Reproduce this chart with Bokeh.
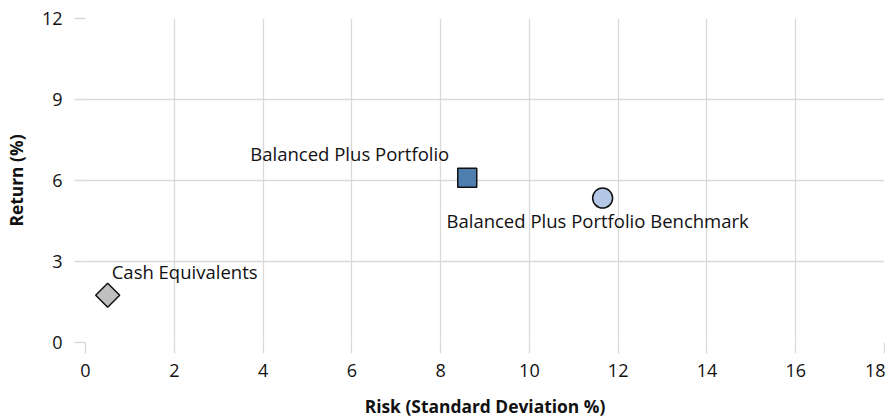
import numpy as np
from bokeh.plotting import figure
from bokeh.models import FixedTicker
from bokeh.core.properties import value
from bokeh.embed import file_html
from bokeh.resources import INLINE

# ---- data ----
names = ["Cash Equivalents", "Balanced Plus Portfolio", "Balanced Plus Portfolio Benchmark"]
risk = [0.5, 8.6, 11.65]
ret = [1.75, 6.1, 5.35]
x_ticks = [0, 2, 4, 6, 8, 10, 12, 14, 16, 18]
y_ticks = [0, 3, 6, 9, 12]

FONT = "Open Sans"
GRID = "#d9d9d9"
TEXT = "#111111"

p = figure(width=884, height=417, x_range=(0, 18), y_range=(0, 12),
           output_backend="svg", toolbar_location=None,
           frame_width=799, frame_height=324,
           min_border_left=84, min_border_right=1, min_border_top=18, min_border_bottom=75)
p.outline_line_color = None
p.background_fill_color = "white"
p.border_fill_color = "white"

for ax, ticks in ((p.xaxis[0], x_ticks), (p.yaxis[0], y_ticks)):
    ax.ticker = FixedTicker(ticks=ticks)
    ax.axis_line_color = None
    ax.major_tick_line_color = GRID
    ax.major_tick_line_width = 1.3
    ax.minor_tick_line_color = None
    ax.major_label_text_font = FONT
    ax.major_label_text_font_size = "18px"
    ax.major_label_text_color = TEXT
    ax.axis_label_text_font = FONT
    ax.axis_label_text_font_size = "17.4px"
    ax.axis_label_text_font_style = "bold"
    ax.axis_label_text_color = TEXT

p.xaxis.major_tick_in = 0
p.xaxis.major_tick_out = 11
p.yaxis.major_tick_in = 0
p.yaxis.major_tick_out = 11
p.xaxis.major_label_standoff = 10
p.yaxis.major_label_standoff = 12
p.xaxis.axis_label = "Risk (Standard Deviation %)"
p.yaxis.axis_label = "Return (%)"
p.xaxis.axis_label_standoff = 14
p.yaxis.axis_label_standoff = 11

p.xgrid.ticker = FixedTicker(ticks=x_ticks)
p.ygrid.ticker = FixedTicker(ticks=y_ticks)
p.xgrid.grid_line_color = GRID
p.ygrid.grid_line_color = GRID
p.xgrid.grid_line_width = 1.3
p.ygrid.grid_line_width = 1.3

# markers
p.scatter(x=[risk[0]], y=[ret[0]], marker="square", size=17, angle=np.pi / 4,
          fill_color="#bfbfbf", line_color="#111111", line_width=1.5)
p.scatter(x=[risk[1]], y=[ret[1]], marker="square", size=19,
          fill_color="#4f7fae", line_color="#111111", line_width=1.5)
p.scatter(x=[risk[2]], y=[ret[2]], marker="circle", size=20,
          fill_color="#b4c7e7", line_color="#111111", line_width=1.5)

# labels
label_style = [
    dict(x_offset=4, y_offset=-24, text_align="left"),
    dict(x_offset=-18, y_offset=-24, text_align="right"),
    dict(x_offset=-5, y_offset=22, text_align="center"),
]
for i, st in enumerate(label_style):
    p.text(x=[risk[i]], y=[ret[i]], text=[names[i]], text_baseline="middle",
           text_font=value(FONT), text_font_size="18.5px", text_color=TEXT, **st)

open("out.html", "w").write(file_html(p, INLINE))
